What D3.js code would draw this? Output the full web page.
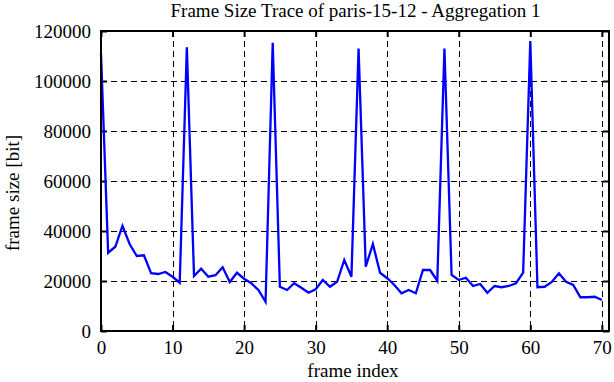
<!DOCTYPE html>
<html><head><meta charset="utf-8">
<script src="https://cdn.jsdelivr.net/npm/d3@7"></script>
<style>body{margin:0;background:#fff}svg{display:block}text{font-family:"Liberation Serif","DejaVu Serif",serif;fill:#000}</style>
</head><body>
<script>
const title = "Frame Size Trace of paris-15-12 - Aggregation 1";
const xLabel = "frame index";
const yLabel = "frame size [bit]";
const xTicks = [0,10,20,30,40,50,60,70];
const yTicks = [0,20000,40000,60000,80000,100000,120000];
const frameSize = [
 111000,31300,33700,42100,34800,30000,30300,23100,22800,23600,
 21700,19300,113500,22000,24900,21700,22300,25500,19600,23300,
 20900,19100,16400,11700,115300,17700,16400,19100,17300,15300,
 16700,20400,17700,19700,28400,21700,113000,25700,34800,23300,
 21100,18400,15100,16400,15100,24400,24400,20100,113000,22400,
 20400,21300,18000,18800,15300,18000,17500,18000,19100,23300,
 116000,17500,17700,19600,23100,19700,18400,13500,13500,13700,
 12400];

const W=614,H=382;
const m={l:101,r:5,t:31,b:51};
const svg=d3.select("body").append("svg").attr("width",W).attr("height",H);
const x=d3.scaleLinear().domain([0,71]).range([m.l,W-m.r]);
const y=d3.scaleLinear().domain([0,120000]).range([H-m.b,m.t]);
const x0=x.range()[0],x1=x.range()[1],y0=y.range()[0],y1=y.range()[1];

// grid
const g=svg.append("g").attr("stroke","#000").attr("stroke-width",1).attr("stroke-dasharray","6,4").attr("shape-rendering","crispEdges");
g.selectAll(".gx").data(xTicks.filter(d=>d>0)).enter().append("line")
 .attr("x1",d=>Math.round(x(d))+0.5).attr("x2",d=>Math.round(x(d))+0.5).attr("y1",y1).attr("y2",y0);
g.selectAll(".gy").data(yTicks.filter(d=>d>0&&d<120000)).enter().append("line")
 .attr("y1",d=>Math.round(y(d))+0.5).attr("y2",d=>Math.round(y(d))+0.5).attr("x1",x0).attr("x2",x1);

// axes with inward ticks, mirrored
const fs=19;
const ax=svg.append("g").attr("transform",`translate(0,${y0})`).call(d3.axisBottom(x).tickValues(xTicks).tickSize(-6).tickPadding(10).tickFormat(d3.format("d")));
const axT=svg.append("g").attr("transform",`translate(0,${y1})`).call(d3.axisTop(x).tickValues(xTicks).tickSize(-6).tickFormat(""));
const ay=svg.append("g").attr("transform",`translate(${x0},0)`).call(d3.axisLeft(y).tickValues(yTicks).tickSize(-6).tickPadding(10).tickFormat(d3.format("d")));
const ayR=svg.append("g").attr("transform",`translate(${x1},0)`).call(d3.axisRight(y).tickValues(yTicks).tickSize(-6).tickFormat(""));
[ax,axT,ay,ayR].forEach(a=>{a.select(".domain").remove();a.selectAll("line").attr("stroke","#000").attr("stroke-width",2);a.selectAll("text").style("font-size",fs+"px").style("font-family",'"Liberation Serif",serif');});

// line
const line=d3.line().x((d,i)=>x(i)).y(d=>y(d));
svg.append("path").datum(frameSize).attr("d",line).attr("fill","none").attr("stroke","#0000ff").attr("stroke-width",2.3).attr("stroke-linejoin","miter");

// frame
svg.append("rect").attr("x",x0).attr("y",y1).attr("width",x1-x0).attr("height",y0-y1).attr("fill","none").attr("stroke","#000").attr("stroke-width",2);

svg.append("text").attr("x",355.5).attr("y",17).attr("text-anchor","middle").style("font-size","19px").text(title);
svg.append("text").attr("x",353).attr("y",377).attr("text-anchor","middle").style("font-size","19px").text(xLabel);
svg.append("text").attr("transform",`translate(19,193) rotate(-90)`).attr("text-anchor","middle").style("font-size","19px").text(yLabel);
</script>
</body></html>
